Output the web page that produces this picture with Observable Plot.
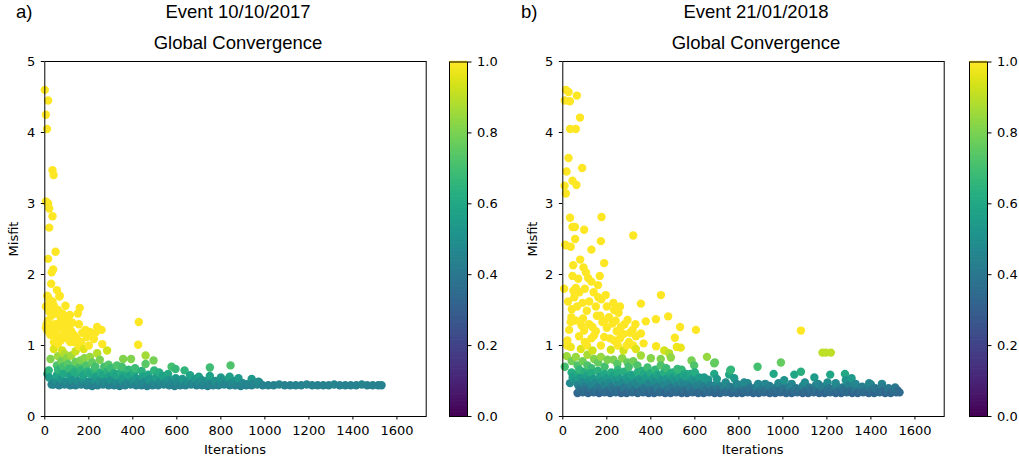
<!DOCTYPE html>
<html><head><meta charset="utf-8">
<script src="https://cdn.jsdelivr.net/npm/d3@7"></script>
<script src="https://cdn.jsdelivr.net/npm/@observablehq/plot@0.6"></script>
<style>
body{margin:0;background:#fff;}
#fig{position:relative;width:1019px;height:461px;overflow:hidden;}
#fig svg{position:absolute;top:0;}
.t{position:absolute;font-family:"Liberation Sans",Arial,sans-serif;font-size:18.5px;line-height:18px;color:#000;white-space:nowrap;}
.c{transform:translateX(-50%);}
.lab{position:absolute;font-family:"DejaVu Sans",sans-serif;font-size:13px;line-height:13px;color:#000;white-space:nowrap;}
</style></head>
<body><div id="fig"></div>
<script>
// ---------- tick labels ----------
const iterTicks = [0,200,400,600,800,1000,1200,1400,1600];
const misfitTicks = [0,1,2,3,4,5];
const cbarTicks = [0,0.2,0.4,0.6,0.8,1.0];

// ---------- panel a: Event 10/10/2017 ([iteration, misfit]) ----------
const scatterA = [[0,4.60],[15,4.45],[5,4.25],[10,4.05],[35,3.47],[40,3.40],[5,3.03],[15,3.00],[20,2.93],[35,2.82],[20,2.66],[49,2.32],[15,2.22],[38,2.07],[31,2.03],[29,1.87],[55,1.78],[15,1.68],[11,1.70],[66,1.69],[68,1.70],[41,1.56],[94,1.56],[159,1.53],[150,1.45],[114,1.43],[72,1.40],[14,1.35],[155,1.30],[427,1.33],[238,1.26],[258,1.22],[11,1.21],[49,1.19],[94,1.16],[132,1.15],[170,1.18],[205,1.19],[223,1.09],[261,1.02],[424,1.01],[41,1.05],[72,1.07],[132,1.05],[177,0.95],[140,0.92],[79,0.93],[41,0.95],
[5,1.55],[20,1.48],[30,1.42],[45,1.30],[60,1.25],[25,1.15],[85,1.28],[105,1.35],[120,1.20],[100,1.10],[60,1.50],[35,1.62],[80,1.45],[8,1.30],[25,1.28],[55,1.12],[115,1.05],[145,1.10],[190,1.12],[230,1.18],[200,1.00],[155,0.99],[5,1.25],[18,1.58],[50,1.45],[88,1.20],[110,1.25],[60,1.02],[30,1.52],[70,1.33],[95,1.40],[125,1.32],[40,1.22],[75,1.12],[165,1.05],[185,1.22]];
const greenA = [[283,0.93],[238,0.89],[458,0.86],[205,0.84],[26,0.81],[162,0.79],[356,0.81],[392,0.81],[494,0.79],[458,0.74],[290,0.73],[328,0.72],[576,0.70],[594,0.67],[635,0.65],[750,0.69],[844,0.72],[497,0.65],[18,0.65],[12,0.60],[31,0.45],[20,0.55],
[60,0.85],[90,0.88],[120,0.86],[75,0.78],[105,0.74],[140,0.77],[180,0.82],[215,0.76],[250,0.80],[270,0.70],[55,0.72],[100,0.82],[230,0.70],[300,0.68],[190,0.72],[160,0.70],[130,0.68],[85,0.70],[350,0.70],[410,0.68],[380,0.66],[440,0.64],[520,0.62],[560,0.60],[660,0.58],[700,0.56],[750,0.57],[800,0.55],[840,0.56],[880,0.54],[940,0.53],[971,0.49]];
const bandA1 = [[40,0.45],[65,0.44],[90,0.45],[115,0.44],[140,0.44],[165,0.45],[190,0.44],[215,0.43],[240,0.44],[265,0.45],[290,0.44],[315,0.44],[340,0.43],[365,0.44],[390,0.45],[415,0.44],[440,0.44],[465,0.43],[490,0.44],[515,0.44],[540,0.45],[565,0.44],[590,0.43],[615,0.44],[640,0.44],[665,0.45],[690,0.44],[715,0.44],[740,0.43],[765,0.44],[790,0.44],[815,0.45],[840,0.44],[865,0.44],[890,0.43],[915,0.44],[940,0.44],[965,0.45],[990,0.44],[1015,0.44],[1040,0.44],[1065,0.45],[1090,0.44],[1115,0.44],[1140,0.44],[1165,0.44],[1190,0.45],[1215,0.44],[1240,0.44],[1265,0.44],[1290,0.44],[1315,0.45],[1340,0.44],[1365,0.44],[1390,0.44],[1415,0.44],[1440,0.45],[1465,0.44],[1490,0.44],[1515,0.44],[1530,0.44]];
const bandA2 = [[50,0.50],[75,0.52],[100,0.49],[125,0.51],[150,0.50],[175,0.52],[200,0.49],[225,0.51],[250,0.50],[275,0.49],[300,0.51],[325,0.49],[350,0.50],[375,0.48],[400,0.50],[425,0.49],[450,0.48],[475,0.50],[500,0.48],[525,0.49],[550,0.48],[575,0.47],[600,0.49],[625,0.47],[650,0.48],[675,0.47],[700,0.48],[725,0.47],[750,0.46],[775,0.48],[800,0.47],[825,0.46],[850,0.47],[875,0.46],[900,0.47],[925,0.46],[950,0.46],[975,0.48]];
const bandA3 = [[55,0.58],[85,0.60],[115,0.57],[145,0.61],[175,0.58],[205,0.60],[235,0.56],[265,0.59],[295,0.57],[325,0.58],[355,0.55],[385,0.57],[415,0.54],[445,0.56],[475,0.53],[505,0.55],[535,0.57],[565,0.52],[595,0.54],[625,0.53],[655,0.51],[685,0.53],[715,0.51],[745,0.52],[775,0.50],[805,0.51],[835,0.53],[865,0.50]];
const bandA4 = [[60,0.66],[80,0.64],[110,0.67],[135,0.63],[165,0.65],[195,0.63],[225,0.66],[255,0.62],[285,0.64],[315,0.61],[345,0.62],[375,0.60],[405,0.61],[470,0.59]];

// ---------- panel b: Event 21/01/2018 ([iteration, misfit]) ----------
const scatterB = [[14,4.60],[26,4.57],[64,4.52],[9,4.45],[32,4.44],[78,4.21],[33,4.05],[59,4.05],[26,3.64],[88,3.50],[17,3.45],[44,3.32],[62,3.26],[8,3.25],[14,3.14],[33,2.80],[176,2.81],[44,2.67],[55,2.67],[97,2.63],[320,2.55],[56,2.50],[173,2.47],[11,2.42],[36,2.39],[130,2.35],[14,2.41],[79,2.21],[47,2.13],[188,2.16],[94,2.10],[105,2.03],[44,1.98],[168,1.98],[115,1.95],[70,1.94],[6,1.80],[59,1.81],[48,1.77],[446,1.71],[195,1.71],[161,1.68],[24,1.62],[52,1.68],[120,1.62],[355,1.59],[41,1.51],[109,1.49],[233,1.50],[253,1.46],[155,1.42],[39,1.40],[423,1.37],[479,1.41],[377,1.34],[294,1.36],[92,1.38],[180,1.33],[226,1.31],[36,1.33],[533,1.26],[605,1.22],[317,1.22],[264,1.26],[29,1.22],[135,1.26],[97,1.21],[355,1.17],[509,1.11],[332,1.13],[276,1.16],[74,1.13],[188,1.12],[142,1.14],[21,1.07],[367,1.03],[424,0.99],[518,0.98],[536,0.97],[233,1.07],[100,1.05],[36,0.98],[173,1.00],[1082,1.21],
[120,1.30],[150,1.20],[200,1.25],[210,1.40],[245,1.20],[260,1.10],[280,1.30],[300,1.05],[170,1.42],[130,1.10],[85,1.28],[60,1.35],[110,1.00],[215,1.10],[190,1.35],[240,1.35],[305,1.18],[150,1.55],[65,1.55],[20,1.00],[250,1.00],[320,1.00],[290,1.00],[200,1.55],[175,1.65],[230,1.60],[140,1.75],[100,1.80],[90,1.60],[160,1.85],[130,1.90],[75,1.75],[260,1.55],[330,1.30]];
const greenB = [[332,0.95],[461,0.93],[483,0.89],[218,0.94],[276,0.93],[82,0.95],[135,0.93],[18,0.85],[112,0.87],[173,0.84],[355,0.86],[400,0.82],[445,0.81],[491,0.83],[655,0.84],[585,0.79],[688,0.75],[9,0.70],[59,0.84],[67,0.72],[1180,0.90],[1195,0.90],[1218,0.90],[691,0.76],[885,0.70],[991,0.76],
[142,0.81],[203,0.80],[294,0.76],[248,0.74],[112,0.72],[339,0.72],[445,0.72],[385,0.69],[521,0.67],[597,0.72],[764,0.66],[688,0.60],[761,0.65],[756,0.59],[779,0.54],[958,0.60],[1052,0.59],[1082,0.63],[1143,0.55],[1215,0.59],[1282,0.60],[1312,0.54],[1392,0.47],[1450,0.46],[642,0.55],[824,0.48],[888,0.46],[1006,0.51],[1203,0.48],[1286,0.51],
[90,0.78],[160,0.76],[230,0.80],[270,0.82],[320,0.78],[40,0.78],[190,0.70],[300,0.70],[130,0.68],[75,0.66],[250,0.66],[360,0.64],[420,0.66],[470,0.68],[540,0.66],[600,0.62],[560,0.60],[500,0.62],[67,0.55],[33,0.47],[67,0.33],[45,0.55]];
const bandB1 = [[90,0.34],[115,0.33],[140,0.34],[165,0.33],[190,0.34],[215,0.33],[240,0.34],[265,0.33],[290,0.33],[315,0.34],[340,0.33],[365,0.34],[390,0.33],[415,0.33],[440,0.34],[465,0.33],[490,0.33],[515,0.34],[540,0.33],[565,0.33],[590,0.34],[615,0.33],[640,0.33],[665,0.34],[690,0.33],[715,0.33],[740,0.34],[765,0.33],[790,0.33],[815,0.33],[840,0.34],[865,0.33],[890,0.33],[915,0.34],[940,0.33],[965,0.33],[990,0.34],[1015,0.33],[1040,0.33],[1065,0.34],[1090,0.33],[1115,0.33],[1140,0.34],[1165,0.33],[1190,0.33],[1215,0.34],[1240,0.33],[1265,0.33],[1290,0.34],[1315,0.33],[1340,0.33],[1365,0.34],[1390,0.33],[1415,0.33],[1440,0.34],[1465,0.33],[1490,0.33],[1515,0.34],[1530,0.34]];
const bandB2 = [[78,0.38],[103,0.37],[128,0.39],[153,0.37],[178,0.38],[203,0.36],[228,0.38],[253,0.37],[278,0.39],[303,0.37],[328,0.38],[353,0.36],[378,0.38],[403,0.37],[428,0.39],[453,0.37],[478,0.38],[503,0.36],[528,0.38],[553,0.37],[578,0.39],[603,0.37],[628,0.36],[653,0.38],[678,0.37],[703,0.38],[728,0.36],[753,0.37],[778,0.38],[803,0.36],[828,0.37],[853,0.38],[878,0.36],[903,0.37],[928,0.38],[953,0.36],[978,0.37],[1003,0.38],[1028,0.36],[1053,0.37],[1078,0.38],[1103,0.36],[1128,0.37],[1153,0.38],[1178,0.36],[1203,0.37],[1228,0.38],[1253,0.36],[1278,0.37],[1303,0.36],[1328,0.38],[1353,0.37],[1378,0.36],[1403,0.37],[1428,0.38],[1453,0.36],[1478,0.37],[1503,0.36],[1520,0.37]];
const bandB3 = [[70,0.44],[100,0.42],[130,0.45],[160,0.41],[190,0.44],[220,0.42],[250,0.45],[280,0.41],[310,0.43],[340,0.45],[370,0.41],[400,0.44],[430,0.42],[460,0.45],[490,0.41],[520,0.43],[550,0.44],[580,0.41],[610,0.43],[640,0.42],[670,0.44],[700,0.41],[730,0.43],[760,0.42],[790,0.40],[820,0.43],[850,0.41],[880,0.42],[910,0.40],[940,0.43],[970,0.41],[1000,0.44],[1030,0.42],[1060,0.40],[1090,0.43],[1120,0.41],[1150,0.44],[1180,0.42],[1210,0.40],[1240,0.43],[1270,0.41],[1300,0.44],[1330,0.40],[1360,0.42],[1390,0.41],[1420,0.40],[1450,0.42],[1480,0.40],[1510,0.41]];
const bandB4 = [[60,0.50],[90,0.48],[120,0.51],[150,0.47],[180,0.50],[210,0.48],[240,0.52],[270,0.47],[300,0.50],[330,0.48],[360,0.51],[390,0.47],[420,0.49],[450,0.51],[480,0.47],[510,0.50],[540,0.48],[570,0.46],[600,0.49],[630,0.47],[660,0.50],[700,0.46],[740,0.48],[790,0.46],[840,0.47],[920,0.46],[980,0.47],[1040,0.46],[1100,0.48],[1160,0.46],[1240,0.47],[1330,0.46],[1400,0.45]];
const bandB5 = [[50,0.56],[80,0.54],[110,0.57],[140,0.53],[170,0.56],[200,0.54],[230,0.57],[260,0.53],[290,0.55],[320,0.56],[350,0.53],[380,0.55],[410,0.54],[440,0.56],[470,0.53],[500,0.55],[530,0.54],[560,0.56],[590,0.53],[620,0.55],[660,0.52],[700,0.53]];
const bandB6 = [[40,0.62],[70,0.60],[100,0.63],[130,0.61],[160,0.64],[190,0.60],[220,0.62],[250,0.61],[280,0.63],[310,0.59],[340,0.62],[370,0.60],[400,0.61],[430,0.59],[460,0.62],[490,0.60],[520,0.61],[550,0.59],[580,0.60]];

// ---------- texts ----------
const panelTags = ["a)", "b)"];
const eventTitles = ["Event 10/10/2017", "Event 21/01/2018"];
const subTitle = "Global Convergence";
const xLabel = "Iterations";
const yLabel = "Misfit";

const fig = document.getElementById("fig");
const font = {fontFamily: "'DejaVu Sans', sans-serif", fontSize: "13px", color: "#000", background: "transparent", overflow: "visible"};

function scatter(points) {
  const data = points.slice().sort((a, b) => a[0] - b[0]);
  return Plot.plot({
    width: 440, height: 461,
    marginLeft: 44.3, marginRight: 14.3, marginTop: 61, marginBottom: 45,
    style: font,
    x: {domain: [0, 1733]},
    y: {domain: [0, 5]},
    color: {type: "linear", scheme: "viridis", domain: [0, 1]},
    marks: [
      Plot.dot(data, {x: d => d[0], y: d => d[1], fill: d => Math.min(d[1], 1), r: 4.2}),
      Plot.axisX({ticks: iterTicks, tickSize: 3.5, tickPadding: 6, label: null, tickFormat: d => String(d), stroke: "#000", fill: "#000"}),
      Plot.axisY({ticks: misfitTicks, tickSize: 3.5, tickPadding: 6, label: null, tickFormat: d => String(d), stroke: "#000", fill: "#000"}),
      Plot.frame({stroke: "#000", strokeWidth: 1})
    ]
  });
}

function colorbar() {
  const levels = d3.range(0, 256).map(i => i / 256);
  return Plot.plot({
    width: 60, height: 461,
    marginLeft: 0, marginRight: 42, marginTop: 61.5, marginBottom: 45,
    style: font,
    x: {domain: [0, 1], axis: null},
    y: {domain: [0, 1], axis: null},
    color: {type: "linear", scheme: "viridis", domain: [0, 1]},
    marks: [
      Plot.rect(levels, {x1: 0, x2: 1, y1: d => d, y2: d => d + 1 / 256 + 0.002, fill: d => d + 0.5 / 256}),
      Plot.axisY({anchor: "right", ticks: cbarTicks, tickFormat: d3.format(".1f"), tickSize: 3.5, tickPadding: 6, label: null, stroke: "#000", fill: "#000"}),
      Plot.frame({stroke: "#000", strokeWidth: 1})
    ]
  });
}

function place(el, left) { el.style.left = left + "px"; fig.appendChild(el); }
function text(cls, str, left, top, extra) {
  const d = document.createElement("div");
  d.className = cls; d.textContent = str;
  d.style.left = left + "px"; d.style.top = top + "px";
  if (extra) d.style.transform = extra;
  fig.appendChild(d);
}

const panels = [
  {pts: [...scatterA, ...greenA, ...bandA1, ...bandA2, ...bandA3, ...bandA4], off: 0, tagX: 16, titleX: 238, ylabX: 13},
  {pts: [...scatterB, ...greenB, ...bandB1, ...bandB2, ...bandB3, ...bandB4, ...bandB5, ...bandB6], off: 517.7, tagX: 521, titleX: 756, ylabX: 532}
];
panels.forEach((p, i) => {
  place(scatter(p.pts), p.off);
  place(colorbar(), 449.3 + p.off + (i ? 1.5 : 0));
  text("t", panelTags[i], p.tagX, 3);
  text("t c", eventTitles[i], p.titleX, 3);
  text("t c", subTitle, p.titleX, 34);
  text("lab", xLabel, p.off + 235, 443, "translateX(-50%)");
  text("lab", yLabel, p.ylabX, 239, "translate(-50%,-50%) rotate(-90deg)");
});
</script></body></html>
